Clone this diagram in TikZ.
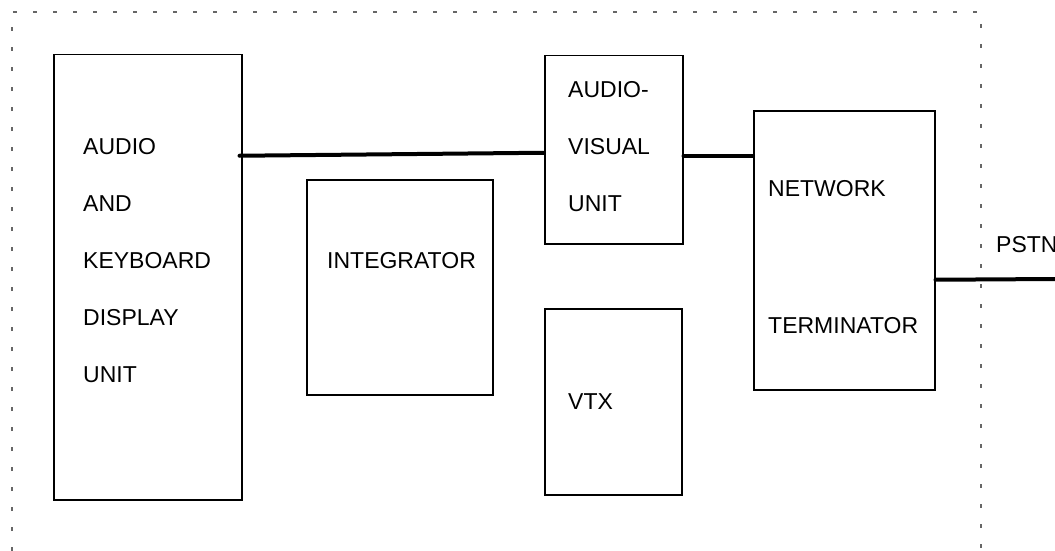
\documentclass[tikz,border=0pt]{standalone}
\usepackage{fontspec}
\setmainfont{Liberation Sans}

\begin{document}
\begin{tikzpicture}[x=1pt,y=-1pt,
  box/.style={draw,line width=1.5pt,inner sep=0pt,anchor=north west},
  lbl/.style={anchor=base west,inner sep=0pt,font=\fontsize{23}{27}\selectfont},
  link/.style={line width=4pt,line cap=round}]
\useasboundingbox (0,0) rectangle (1055,551);
% dotted frame, open at the bottom
\draw [black!60,line width=1.3pt,dash pattern=on 4pt off 16pt] (12,551) -- (12,12) -- (981,12) -- (981,551);
% units
\node [box,minimum width=188pt,minimum height=445pt] (kbd) at (53,54) {};
\node [box,minimum width=186pt,minimum height=215pt] (intg) at (306,179) {};
\node [box,minimum width=138pt,minimum height=188pt] (avu) at (544,55) {};
\node [box,minimum width=137pt,minimum height=186pt] (vtx) at (544,308) {};
\node [box,minimum width=181pt,minimum height=279pt] (ntu) at (753,110) {};
% labels
\node [lbl] (kbd1) at (83,154) {AUDIO};
\node [lbl] (kbd2) at (83,211) {AND};
\node [lbl] (kbd3) at (83,268) {KEYBOARD};
\node [lbl] (kbd4) at (83,325) {DISPLAY};
\node [lbl] (kbd5) at (83,382) {UNIT};
\node [lbl] (intg1) at (327,268) {INTEGRATOR};
\node [lbl] (avu1) at (568,97) {AUDIO-};
\node [lbl] (avu2) at (568,154) {VISUAL};
\node [lbl] (avu3) at (568,211) {UNIT};
\node [lbl] (vtx1) at (568,409) {VTX};
\node [lbl] (ntu1) at (768,196) {NETWORK};
\node [lbl] (ntu2) at (768,333) {TERMINATOR};
\node [lbl] (pstn1) at (996,252) {PSTN};
% connections
\coordinate (pstn) at (1055,279);
\draw [link] ([xshift=-3pt,yshift=121.5pt]kbd.east) -- ([yshift=-3pt]avu.west);
\draw [link] ([yshift=-6pt]avu.east) -- ([yshift=94.5pt]ntu.west);
\draw [link] ([yshift=-29.5pt]ntu.east) -- (pstn);
\end{tikzpicture}
\end{document}
